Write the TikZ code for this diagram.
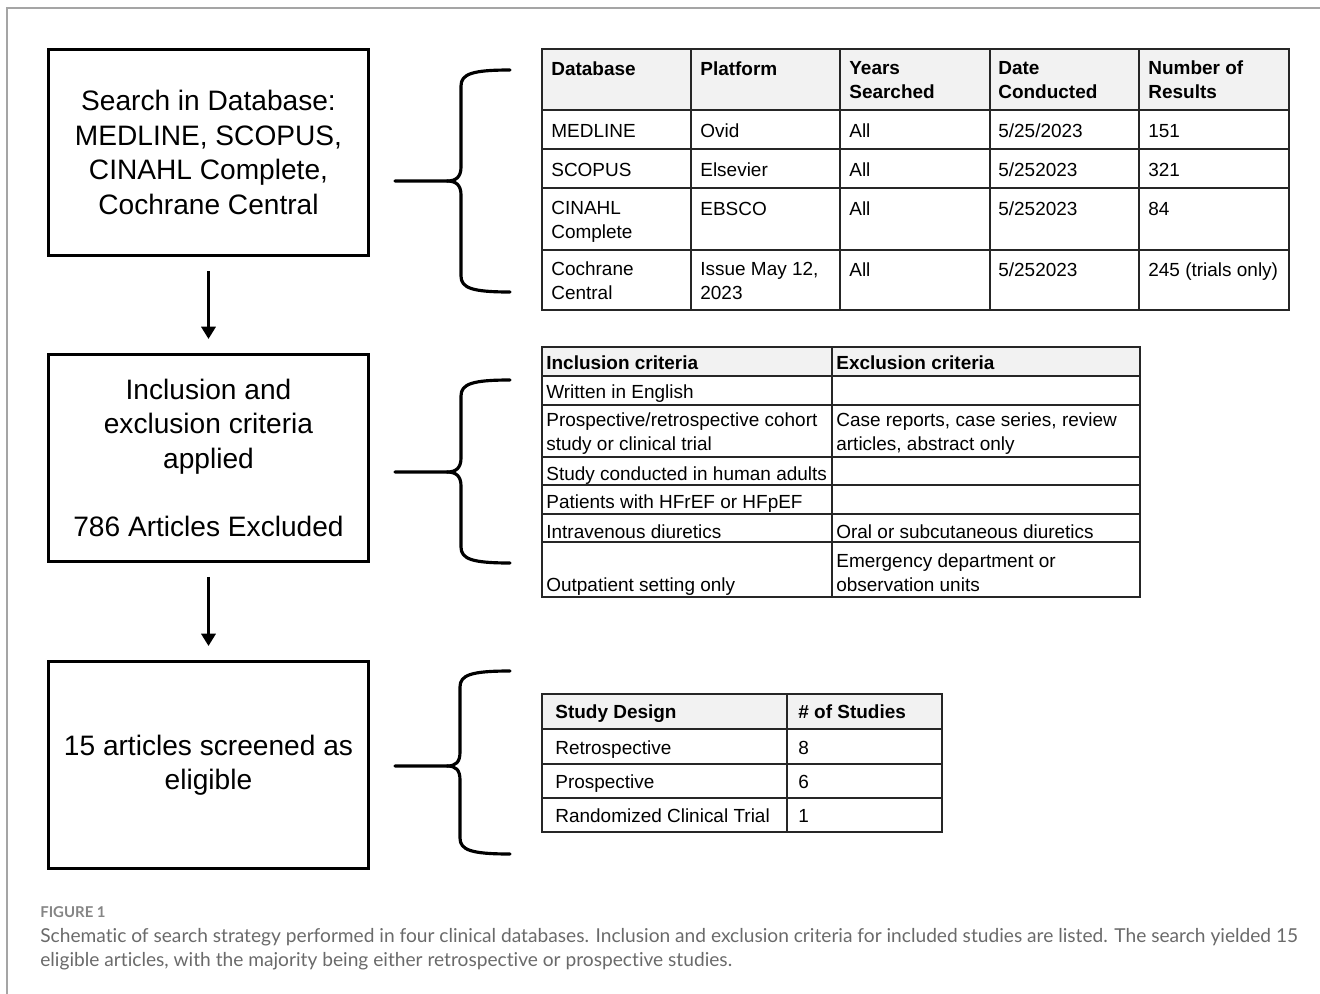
\documentclass[tikz,border=0pt]{standalone}
\usepackage{fontspec}
\setmainfont{Liberation Sans}
\newfontfamily\captionfont[Ligatures=NoCommon]{Lato}
\usetikzlibrary{arrows.meta}
\definecolor{hdr}{HTML}{F2F2F2}
\definecolor{capgray}{HTML}{6A6A6A}
\definecolor{figgray}{HTML}{858585}
\definecolor{framegray}{HTML}{A5A5A5}
\begin{document}
\begin{tikzpicture}[x=0.02cm, y=-0.02cm,
	box/.style={draw=black, line width=1.7pt, minimum width=6.4cm, minimum height=4.14cm, inner sep=0pt, align=center, font=\fontsize{16}{19.6}\selectfont},
	cell/.style={anchor=base west, align=left, inner sep=0pt, font=\fontsize{10.8}{13.1}\selectfont},
	head/.style={cell, font=\fontsize{10.8}{13.1}\selectfont\bfseries},
	grid/.style={draw=black!85, line width=0.8pt},
	brace/.style={draw=black, line width=1.8pt, line cap=round},
	arrow/.style={draw=black, line width=1.7pt, -{Triangle[width=8pt,length=7pt]}, shorten <=0.28cm, shorten >=0.28cm}]
					\useasboundingbox (0,0) rectangle (1320,994);
					\draw[framegray, line width=0.6pt] (7,994) -- (7,8) -- (1320,8);
					
					\node[box] (search) at (208.5,152.5){Search in Database:\\MEDLINE, SCOPUS,\\CINAHL Complete,\\Cochrane Central};
					\node[box] (criteria) at (208.5,458){Inclusion and\\exclusion criteria\\applied\\[19.6pt]786 Articles Excluded};
					\node[box] (eligible) at (208.5,765){15 articles screened as\\eligible};
					
					\path (search) edge[arrow] (criteria);
					\path (criteria) edge[arrow] (eligible);
					
					\path[brace] (395,181) -- (447,181) .. controls (456,181) and (461,177) .. (461,167) -- (461,86) .. controls (461,74) and (472,70) .. (510,70);
					\path[brace] (447,181) .. controls (456,181) and (461,185) .. (461,195) -- (461,276) .. controls (461,288) and (472,292) .. (510,292);
					\path[brace] (395,472) -- (447,472) .. controls (456,472) and (461,468) .. (461,458) -- (461,396) .. controls (461,384) and (472,380) .. (510,380);
					\path[brace] (447,472) .. controls (456,472) and (461,476) .. (461,486) -- (461,547) .. controls (461,559) and (472,563) .. (510,563);
					\path[brace] (395,766) -- (447,766) .. controls (456,766) and (460,762) .. (460,752) -- (460,687) .. controls (460,675) and (471,671) .. (510,671);
					\path[brace] (447,766) .. controls (456,766) and (460,770) .. (460,780) -- (460,838) .. controls (460,850) and (471,854) .. (510,854);
					
					\fill[hdr] (542,49) rectangle (1289,110);
					\draw[grid] (542,49) rectangle (1289,310);
					\draw[grid] (542,110) -- (1289,110) (542,149) -- (1289,149) (542,188) -- (1289,188) (542,250) -- (1289,250);
					\draw[grid] (691,49) -- (691,310) (840,49) -- (840,310) (990,49) -- (990,310) (1139,49) -- (1139,310);
					
					\node[head] (db) at (551,75){Database};
					\node[head] (plat) at (700,75){Platform};
					\node[head] (years) at (849,98){Years\\Searched};
					\node[head] (date) at (998,98){Date\\Conducted};
					\node[head] (num) at (1148,98){Number of\\Results};
					\node[cell] (db1) at (551,137){MEDLINE};
					\node[cell] (plat1) at (700,137){Ovid};
					\node[cell] (years1) at (849,137){All};
					\node[cell] (date1) at (998,137){5/25/2023};
					\node[cell] (num1) at (1148,137){151};
					\node[cell] (db2) at (551,176){SCOPUS};
					\node[cell] (plat2) at (700,176){Elsevier};
					\node[cell] (years2) at (849,176){All};
					\node[cell] (date2) at (998,176){5/252023};
					\node[cell] (num2) at (1148,176){321};
					\node[cell] (db3) at (551,238){CINAHL\\Complete};
					\node[cell] (plat3) at (700,215){EBSCO};
					\node[cell] (years3) at (849,215){All};
					\node[cell] (date3) at (998,215){5/252023};
					\node[cell] (num3) at (1148,215){84};
					\node[cell] (db4) at (551,299){Cochrane\\Central};
					\node[cell] (plat4) at (700,299){Issue May 12,\\2023};
					\node[cell] (years4) at (849,276){All};
					\node[cell] (date4) at (998,276){5/252023};
					\node[cell] (num4) at (1148,276){245 (trials only)};
					
					\fill[hdr] (542,347) rectangle (1140,376);
					\draw[grid] (542,347) rectangle (1140,597);
					\draw[grid] (542,376) -- (1140,376) (542,405) -- (1140,405) (542,457) -- (1140,457) (542,485) -- (1140,485) (542,514) -- (1140,514) (542,542) -- (1140,542);
					\draw[grid] (832,347) -- (832,597);
					
					\node[head] (inc) at (546,369){Inclusion criteria};
					\node[head] (exc) at (836,369){Exclusion criteria};
					\node[cell] (inc1) at (546,398){Written in English};
					\node[cell] (inc2) at (546,450){Prospective/retrospective cohort\\study or clinical trial};
					\node[cell] (exc2) at (836,450){Case reports, case series, review\\articles, abstract only};
					\node[cell] (inc3) at (546,480){Study conducted in human adults};
					\node[cell] (inc4) at (546,508){Patients with HFrEF or HFpEF};
					\node[cell] (inc5) at (546,538){Intravenous diuretics};
					\node[cell] (exc5) at (836,538){Oral or subcutaneous diuretics};
					\node[cell] (inc6) at (546,591){Outpatient setting only};
					\node[cell] (exc6) at (836,591){Emergency department or\\observation units};
					
					\fill[hdr] (542,694) rectangle (942,729);
					\draw[grid] (542,694) rectangle (942,832);
					\draw[grid] (542,729) -- (942,729) (542,764) -- (942,764) (542,798) -- (942,798);
					\draw[grid] (787,694) -- (787,832);
					
					\node[head] (design) at (555,718){Study Design};
					\node[head] (count) at (798,718){\# of Studies};
					\node[cell] (design1) at (555,754){Retrospective};
					\node[cell] (count1) at (798,754){8};
					\node[cell] (design2) at (555,788){Prospective};
					\node[cell] (count2) at (798,788){6};
					\node[cell] (design3) at (555,822){Randomized Clinical Trial};
					\node[cell] (count3) at (798,822){1};
					
					\node[anchor=base west, inner sep=0pt, text=figgray, font=\captionfont\bfseries\fontsize{8.5}{10}\selectfont] (fig) at (40,917.5){FIGURE 1};
					\node[anchor=base west, inner sep=0pt, align=left, text=capgray, font=\captionfont\fontsize{10.9}{13.6}\selectfont] (caption) at (40,966){Schematic of search strategy performed in four clinical databases. Inclusion and exclusion criteria for included studies are listed. The search yielded 15\\eligible articles, with the majority being either retrospective or prospective studies.};
					\end{tikzpicture}
\end{document}
